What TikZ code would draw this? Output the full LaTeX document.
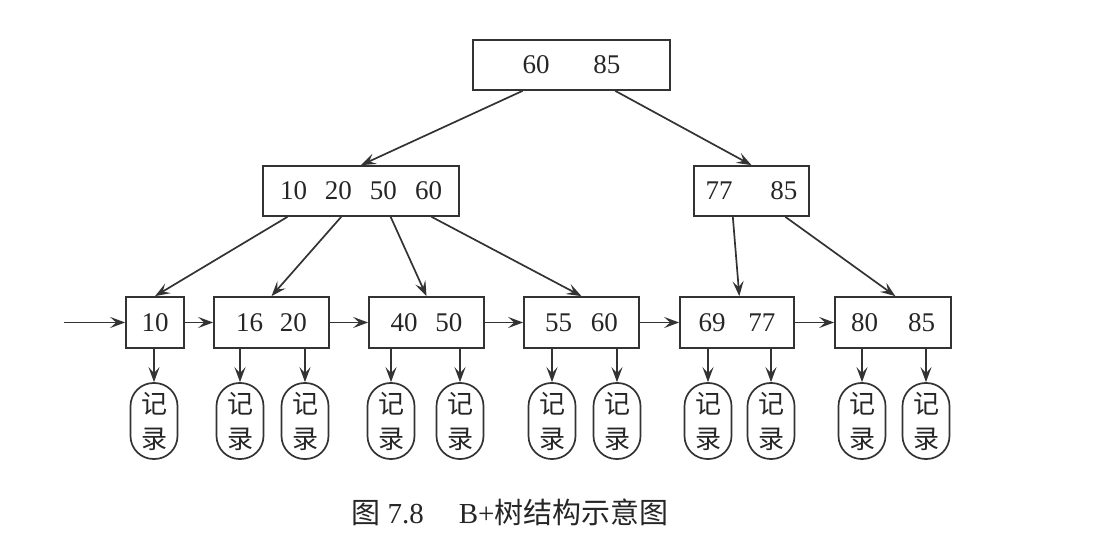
\documentclass[tikz,border=0pt]{standalone}
\usepackage{fontspec}
\setmainfont{Liberation Serif}
\newfontfamily\cjk{Noto Sans CJK SC}
\usetikzlibrary{arrows.meta, positioning, calc}

\begin{document}
\begin{tikzpicture}[x=0.5pt,y=-0.5pt,
  >={Stealth[length=7.5pt,width=5.5pt,inset=3pt]},
  line width=0.85pt, draw=black!80, text=black!85,
  keybox/.style={draw, inner sep=0pt, minimum height=25pt, font=\fontsize{13.5}{15}\selectfont},
  recbox/.style={draw, rounded corners=11.5pt, inner sep=0pt, minimum width=23.5pt, minimum height=38pt,
    align=center, font=\fontsize{13}{17.5}\selectfont\cjk}]

\useasboundingbox (0,0) rectangle (1098,539);

% root and index level
\node[keybox, minimum width=98.5pt] (root) at (571.5,65) {60\hspace{22pt}85};
\node[keybox, minimum width=98pt] (ml) at (361,191) {10\hspace{9pt}20\hspace{9pt}50\hspace{9pt}60};
\node[keybox, minimum width=57.5pt] (mr) at (751.5,191) {77\hspace{19pt}85};

% leaves
\def\ly{322.5}
\node[keybox, minimum width=29pt, minimum height=25.5pt] (l1) at (155,\ly) {10};
\node[keybox, minimum width=57.5pt, minimum height=25.5pt] (l2) at (271.5,\ly) {16\hspace{8.5pt}20};
\node[keybox, minimum width=57.5pt, minimum height=25.5pt] (l3) at (426.5,\ly) {40\hspace{9pt}50};
\node[keybox, minimum width=57.5pt, minimum height=25.5pt] (l4) at (581.5,\ly) {55\hspace{9.5pt}60};
\node[keybox, minimum width=57pt, minimum height=25.5pt] (l5) at (737,\ly) {69\hspace{11.5pt}77};
\node[keybox, minimum width=58pt, minimum height=25.5pt] (l6) at (893,\ly) {80\hspace{15pt}85};

% tree edges
\draw[->] ($(root.south west)!0.254!(root.south east)$) -- (ml.north);
\draw[->] ($(root.south west)!0.72!(root.south east)$) -- (mr.north);
\draw[->] ($(ml.south west)!0.128!(ml.south east)$) -- (l1.north);
\draw[->] ($(ml.south west)!0.40!(ml.south east)$) -- (l2.north);
\draw[->] ($(ml.south west)!0.65!(ml.south east)$) -- (l3.north);
\draw[->] ($(ml.south west)!0.857!(ml.south east)$) -- (l4.north);
\draw[->] ($(mr.south west)!0.34!(mr.south east)$) -- ($(l5.north west)!0.52!(l5.north east)$);
\draw[->] ($(mr.south west)!0.79!(mr.south east)$) -- ($(l6.north west)!0.52!(l6.north east)$);

% leaf chain
\coordinate (start) at (64,\ly);
\draw[->] (start) -- (l1);
\foreach \a/\b in {l1/l2, l2/l3, l3/l4, l4/l5, l5/l6} \draw[->] (\a) -- (\b);

% records
\foreach \i/\x/\p in {1/154/l1, 2/240/l2, 3/305/l2, 4/391/l3, 5/460/l3, 6/552/l4,
                      7/617/l4, 8/708/l5, 9/771/l5, 10/862/l6, 11/926/l6} {
  \node[recbox] (r\i) at (\x,421) {记\\录};
  \draw[->] (r\i.north |- \p.south) -- (r\i.north);
}

% caption
\node[font=\fontsize{14.5}{17}\selectfont] (caption) at (510,512) {{\cjk 图} 7.8\hspace{17.5pt}B+{\cjk 树结构示意图}};

\end{tikzpicture}
\end{document}
